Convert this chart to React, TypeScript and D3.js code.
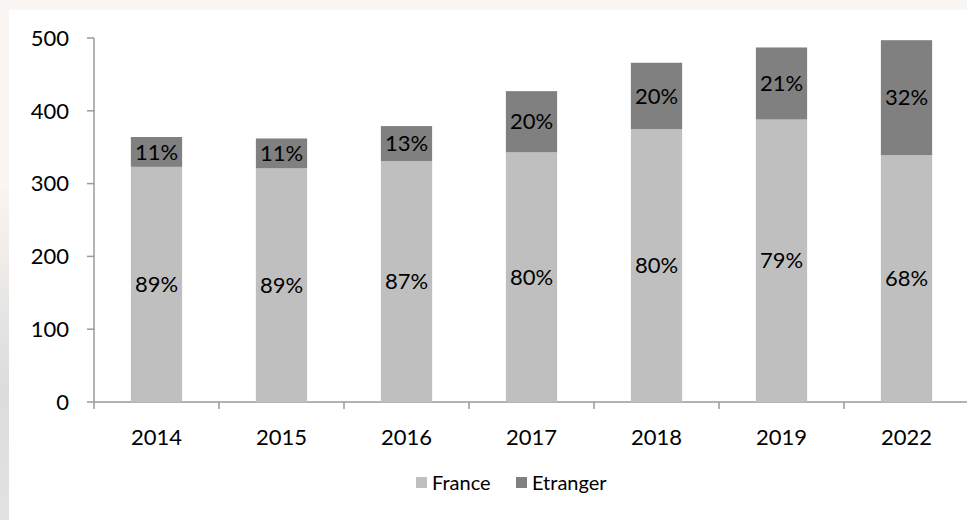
import React, { useEffect } from "react";
import * as d3 from "d3";

const years = ["2014", "2015", "2016", "2017", "2018", "2019", "2022"];
const france = [323, 321, 331, 343, 375, 388, 339];
const etranger = [41, 41, 48, 84, 91, 99, 158];
const francePct = ["89%", "89%", "87%", "80%", "80%", "79%", "68%"];
const etrangerPct = ["11%", "11%", "13%", "20%", "20%", "21%", "32%"];
const yTicks = [0, 100, 200, 300, 400, 500];
const seriesNames = ["France", "Etranger"];
const seriesColors = ["#bfbfbf", "#808080"];

const W = 967;
const H = 520;
const FONT = "Lato, 'Open Sans', sans-serif";
const FS = 22;

export default function App() {
  useEffect(() => {
    document.body.style.margin = "0";
  }, []);

  const x0 = 94;
  const x1 = 969;
  const y = d3.scaleLinear().domain([0, 500]).range([402, 38]);
  const x = d3.scaleBand().domain(years).range([x0, x1]).paddingInner(0.59).paddingOuter(0.295);
  const band = d3.scaleBand().domain(years).range([x0, x1]);

  const stackData = years.map((yr, i) => ({ year: yr, France: france[i], Etranger: etranger[i] }));
  const stacked = d3.stack<any>().keys(seriesNames)(stackData);
  const labels = [francePct, etrangerPct];
  const axisColor = "#9a9a9a";

  return (
    <svg width={W} height={H} style={{ position: "absolute", left: 0, top: 0 }}>
      <defs>
        <linearGradient id="bgimg" x1="0" y1="0" x2="0" y2="1">
          <stop offset="0" stopColor="#f8f4f1" />
          <stop offset="0.35" stopColor="#e8e6e4" />
          <stop offset="0.6" stopColor="#dcdcdc" />
          <stop offset="1" stopColor="#e2e2e2" />
        </linearGradient>
      </defs>
      <rect x={0} y={0} width={W} height={H} fill="#faf6f3" />
      <rect x={0} y={190} width={9} height={H - 190} fill="url(#bgimg)" />
      <rect x={9} y={10} width={W - 9} height={H - 10} fill="#ffffff" />

      {/* y axis */}
      <line x1={x0} x2={x0} y1={y(500)} y2={y(0)} stroke={axisColor} strokeWidth={1.5} />
      {yTicks.map((t) => (
        <g key={t}>
          <line x1={x0 - 7} x2={x0} y1={y(t)} y2={y(t)} stroke={axisColor} strokeWidth={1.5} />
          <text x={69} y={y(t)} dy="0.35em" textAnchor="end" fontFamily={FONT} fontSize={FS} fill="#000">
            {t}
          </text>
        </g>
      ))}

      {/* x axis */}
      <line x1={x0} x2={W} y1={y(0)} y2={y(0)} stroke={axisColor} strokeWidth={1.5} />
      {years.map((yr) => (
        <line key={"t" + yr} x1={band(yr)!} x2={band(yr)!} y1={y(0)} y2={y(0) + 7} stroke={axisColor} strokeWidth={1.5} />
      ))}
      {years.map((yr) => (
        <text key={"l" + yr} x={band(yr)! + band.bandwidth() / 2} y={445} textAnchor="middle" fontFamily={FONT} fontSize={FS} fill="#000">
          {yr}
        </text>
      ))}

      {/* bars */}
      {stacked.map((s, si) => (
        <g key={s.key}>
          {s.map((d, i) => (
            <g key={i}>
              <rect
                x={x(years[i])!}
                width={x.bandwidth()}
                y={y(d[1])}
                height={y(d[0]) - y(d[1])}
                fill={seriesColors[si]}
              />
              <text
                x={x(years[i])! + x.bandwidth() / 2}
                y={(y(d[0]) + y(d[1])) / 2}
                dy="0.35em"
                textAnchor="middle"
                fontFamily={FONT}
                fontSize={FS}
                fill="#000"
              >
                {labels[si][i]}
              </text>
            </g>
          ))}
        </g>
      ))}

      {/* legend */}
      {seriesNames.map((n, i) => {
        const lx = i === 0 ? 416 : 516;
        return (
          <g key={n}>
            <rect x={lx} y={477} width={11} height={11} fill={seriesColors[i]} />
            <text x={lx + 16} y={483} dy="0.35em" fontFamily={FONT} fontSize={20} fill="#000">
              {n}
            </text>
          </g>
        );
      })}
    </svg>
  );
}
